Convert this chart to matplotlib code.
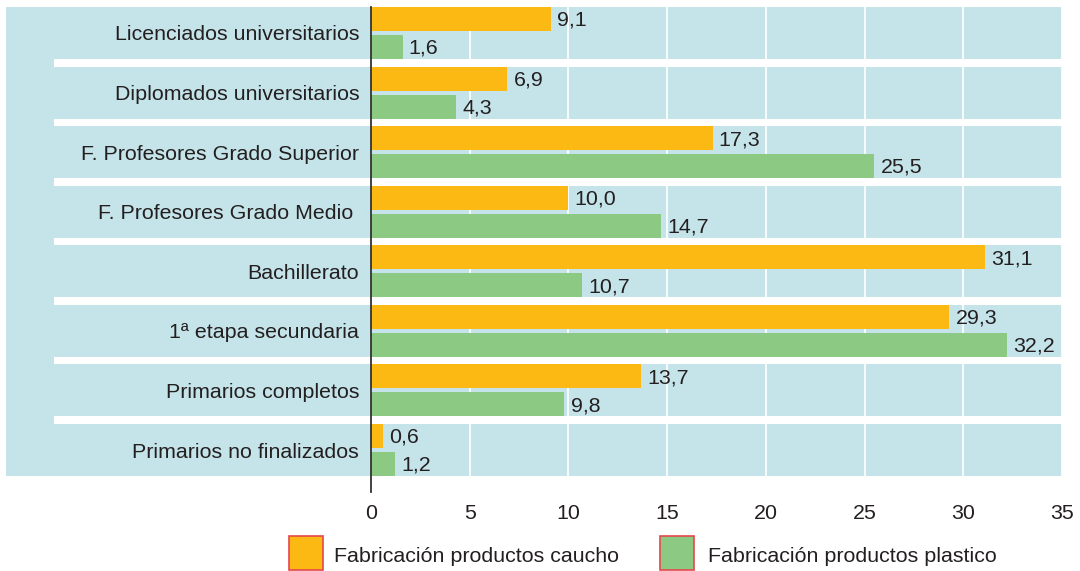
import matplotlib
matplotlib.use("Agg")
import matplotlib.pyplot as plt
from matplotlib.patches import Rectangle
from matplotlib.lines import Line2D
import matplotlib.transforms as mtransforms

plt.rcParams['font.family'] = ['Liberation Sans', 'DejaVu Sans']

categories = ["Licenciados universitarios", "Diplomados universitarios",
              "F. Profesores Grado Superior", "F. Profesores Grado Medio ",
              "Bachillerato", "1ª etapa secundaria", "Primarios completos",
              "Primarios no finalizados"]
caucho = [9.1, 6.9, 17.3, 10.0, 31.1, 29.3, 13.7, 0.6]
plastico = [1.6, 4.3, 25.5, 14.7, 10.7, 32.2, 9.8, 1.2]
series_names = ["Fabricación productos caucho", "Fabricación productos plastico"]
xticks = [0, 5, 10, 15, 20, 25, 30, 35]

BLUE = '#C5E4E9'
ORANGE = '#FCB813'
GREEN = '#8CCA84'
TXT = '#231F20'
EDGE = '#E5474B'

W, H = 1080, 571
fig = plt.figure(figsize=(W / 100, H / 100), dpi=100)
fig.patch.set_facecolor('white')

ax_left, ax_right, ax_top, ax_bot = 371, 1062, 7, 476
ax = fig.add_axes([ax_left / W, (H - ax_bot) / H, (ax_right - ax_left) / W, (ax_bot - ax_top) / H])
ax.set_facecolor('none')

n = len(categories)
blue_frac = 0.872
bar_h = 0.403
ax.set_xlim(0, 35)
ax.set_ylim(n - 1 + blue_frac, 0)

blend = mtransforms.blended_transform_factory(fig.transFigure, ax.transData)
# blue background band
ax.add_patch(Rectangle((6 / W, 0), (ax_right - 6) / W, n - 1 + blue_frac,
                       transform=blend, facecolor=BLUE, edgecolor='none',
                       clip_on=False, zorder=0.05))
# white separators
for i in range(n - 1):
    ax.add_patch(Rectangle((54 / W, i + blue_frac), (ax_right - 54) / W, 1 - blue_frac,
                           transform=blend, facecolor='white', edgecolor='none',
                           clip_on=False, zorder=0.1))

ys = list(range(n))
y_or = [y + bar_h / 2 for y in ys]
y_gr = [y + blue_frac - bar_h / 2 for y in ys]
ax.barh(y_or, caucho, height=bar_h, color=ORANGE, zorder=2)
ax.barh(y_gr, plastico, height=bar_h, color=GREEN, zorder=2)

fs = 15.4
for yy, v in zip(y_or, caucho):
    ax.annotate(f"{v:.1f}".replace('.', ','), (v, yy), xytext=(4.5, -1),
                textcoords='offset points', va='center', ha='left',
                fontsize=fs, color=TXT, zorder=3)
for yy, v in zip(y_gr, plastico):
    ax.annotate(f"{v:.1f}".replace('.', ','), (v, yy), xytext=(4.5, -1),
                textcoords='offset points', va='center', ha='left',
                fontsize=fs, color=TXT, zorder=3)

ax.set_yticks([y + blue_frac / 2 for y in ys])
ax.set_yticklabels(categories, fontsize=fs, color=TXT)
ax.tick_params(axis='y', length=0, pad=8.5)
ax.set_xticks(xticks)
ax.set_xticklabels([str(t) for t in xticks], fontsize=fs, color=TXT)
ax.tick_params(axis='x', length=0, pad=20)

ax.grid(axis='x', color='white', linewidth=1.2, zorder=0.5)
ax.grid(axis='y', visible=False)
ax.set_axisbelow(True)
for s in ax.spines.values():
    s.set_visible(False)

ax.add_line(Line2D([0, 0], [1, -16 / (ax_bot - ax_top)], transform=ax.transAxes,
                   color='#333333', linewidth=1.3, clip_on=False, zorder=4))

# legend
sq = 34
for x0, col, name, tx in [(289, ORANGE, series_names[0], 334),
                          (660, GREEN, series_names[1], 708)]:
    fig.patches.append(Rectangle((x0 / W, (H - 570) / H), sq / W, sq / H,
                                 transform=fig.transFigure, facecolor=col,
                                 edgecolor=EDGE, linewidth=1.2))
    fig.text(tx / W, (H - 556) / H, name, fontsize=fs, color=TXT,
             ha='left', va='center')

fig.savefig('out.png', dpi=100)
